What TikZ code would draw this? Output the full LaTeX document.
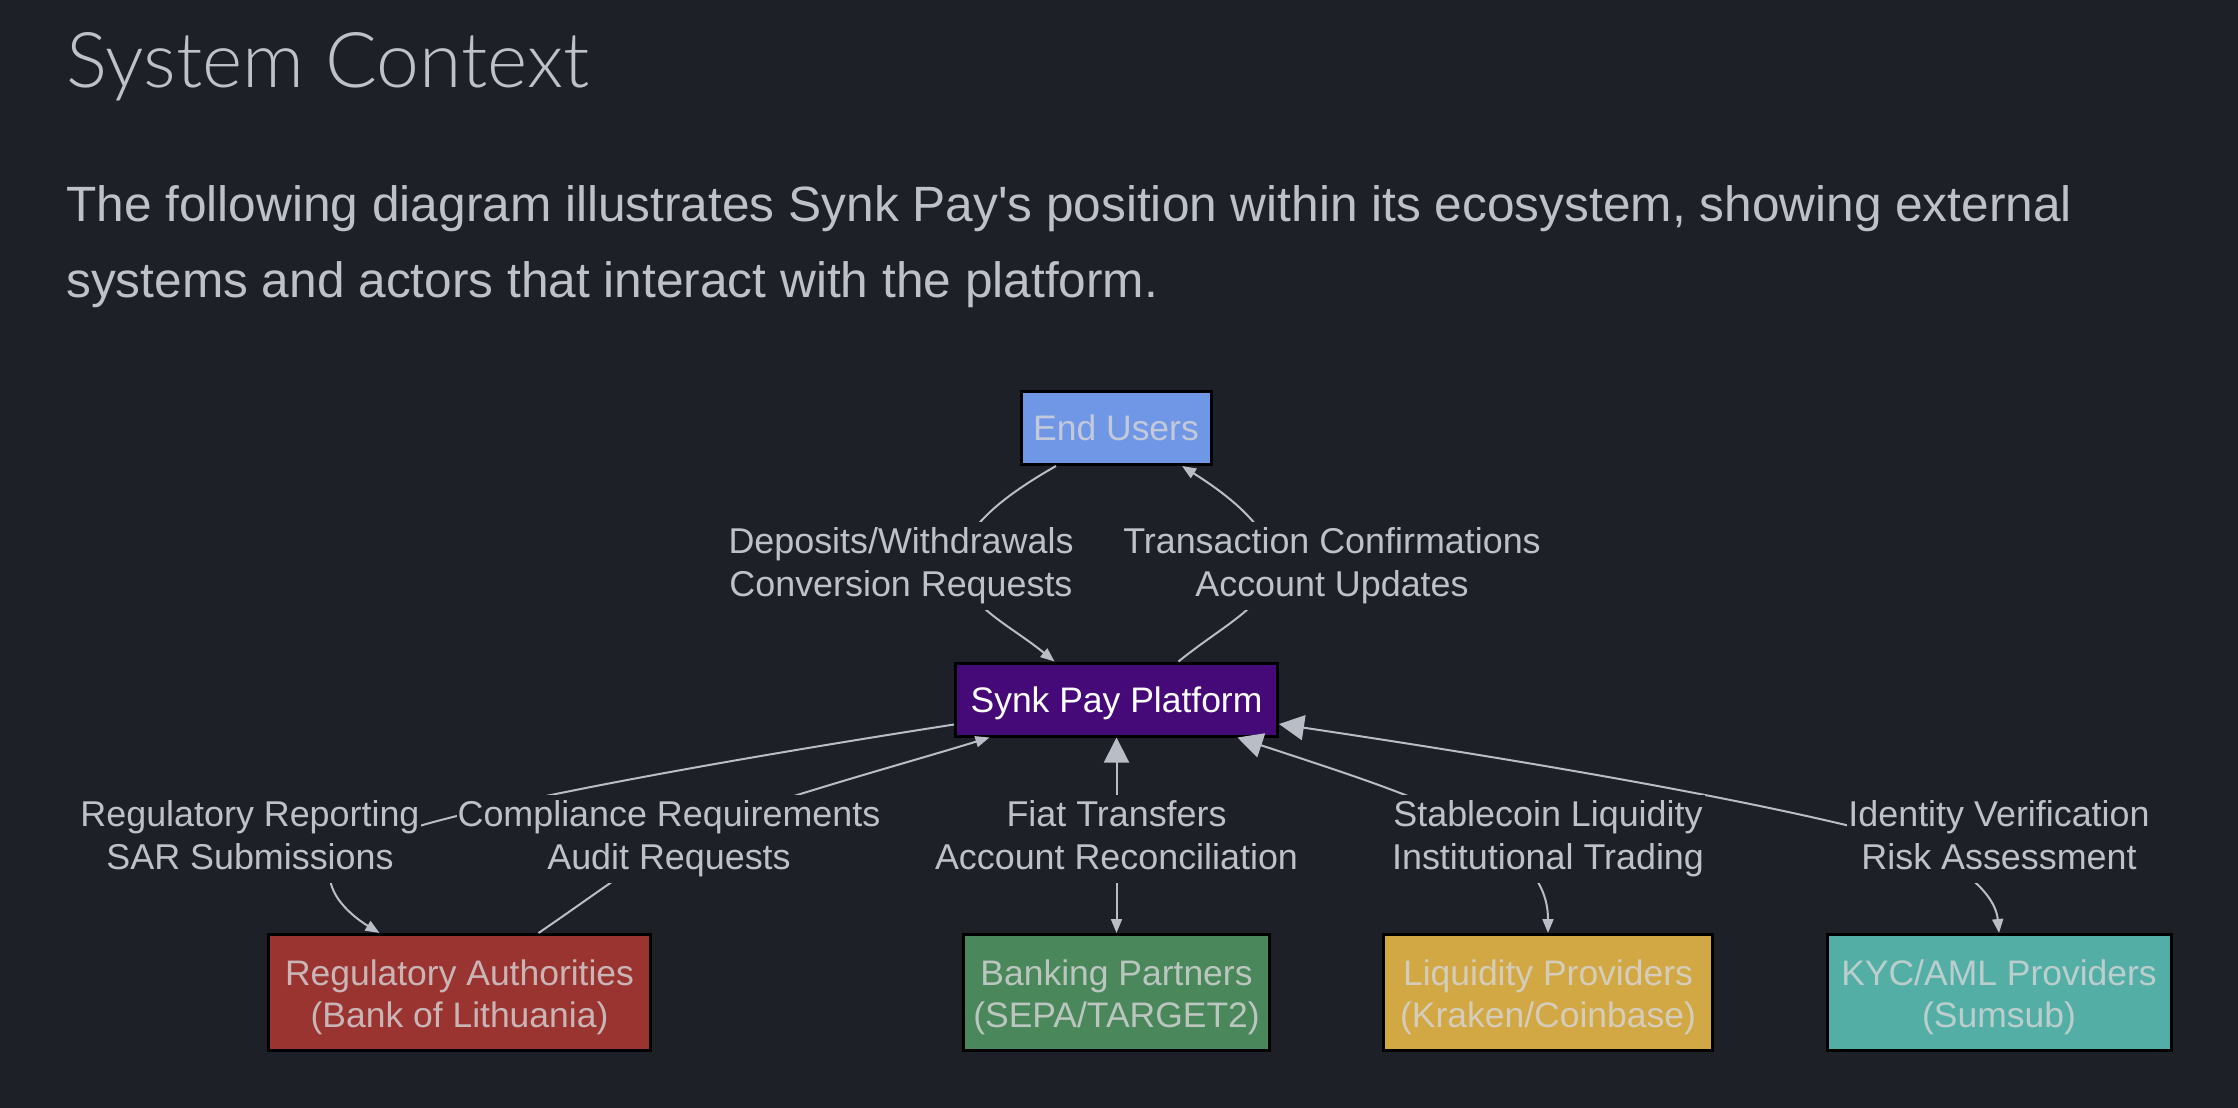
\documentclass[tikz,border=0pt]{standalone}
\usepackage{fontspec}
\setmainfont{Liberation Sans}[Ligatures=TeXOff]
\newfontfamily\titlefont{Lato Light}
\usetikzlibrary{arrows.meta}
\definecolor{bg}{HTML}{1E2028}
\definecolor{txt}{HTML}{BEC1C7}
\definecolor{edgec}{HTML}{B9BDC5}
\definecolor{ntxt}{HTML}{D6D6D8}
\definecolor{cusers}{HTML}{7097E6}
\definecolor{cplat}{HTML}{450A78}
\definecolor{creg}{HTML}{9A3430}
\definecolor{cbank}{HTML}{4A875A}
\definecolor{cliq}{HTML}{D2A844}
\definecolor{ckyc}{HTML}{53AFA6}
\newlength\mytw
\newcommand\fitsize[4]{%
  \settowidth\mytw{#2\fontsize{10pt}{12pt}\selectfont #4}%
  \pgfmathsetmacro#1{#3/\mytw*10}}
\newcommand\topstrut{\rule{0pt}{35pt}}
\begin{document}
\fitsize{\tfs}{\titlefont}{523}{System Context}%
\fitsize{\pfs}{\rmfamily}{2006}{The following diagram illustrates Synk Pay's position within its ecosystem, showing external}%
\fitsize{\lfs}{\rmfamily}{363}{Account Reconciliation}%
\fitsize{\nfs}{\rmfamily}{349}{Regulatory Authorities}%
\begin{tikzpicture}[x=1pt,y=-1pt,
  box/.style={draw=black, line width=3pt, align=center, inner sep=0pt},
  ntext/.style={text=ntxt, text opacity=0.8, font={\fontsize{\nfs pt}{42pt}\selectfont}},
  lbl/.style={fill=bg, text=txt, align=center, inner sep=1pt, font={\fontsize{\lfs pt}{43pt}\selectfont}},
  edge/.style={draw=edgec, line width=2pt},
  arr/.style={-{Triangle[length=14pt,width=11pt]}},
  bi/.style={{Triangle[length=25pt,width=25pt]}-{Triangle[length=14pt,width=11pt]}}]
\useasboundingbox (0,0) rectangle (2238,1108);
\fill[bg] (0,0) rectangle (2238,1108);

% headings
\node[anchor=base west, inner sep=0pt, text=txt, font={\titlefont\fontsize{\tfs pt}{\tfs pt}\selectfont}] (title) at (66,88) {System Context};
\node[anchor=base west, inner sep=0pt, text=txt, font={\fontsize{\pfs pt}{76pt}\selectfont}] (para1) at (66,221) {The following diagram illustrates Synk Pay's position within its ecosystem, showing external};
\node[anchor=base west, inner sep=0pt, text=txt, font={\fontsize{\pfs pt}{76pt}\selectfont}] (para2) at (66,297) {systems and actors that interact with the platform.};

% nodes
\node[box, fill=cusers, ntext, minimum width=190pt, minimum height=73pt] (users) at (1116,428) {End Users};
\node[box, fill=cplat, text=white, font={\fontsize{\nfs pt}{42pt}\selectfont}, text depth=0pt, minimum width=322pt, minimum height=73pt] (plat) at (1116.5,699.5) {Synk Pay Platform};
\node[box, fill=creg, ntext, minimum width=382pt, minimum height=116pt] (reg) at (459.5,992.5) {\topstrut Regulatory Authorities\\(Bank of Lithuania)};
\node[box, fill=cbank, ntext, minimum width=306pt, minimum height=116pt] (bank) at (1116.5,992.5) {\topstrut Banking Partners\\(SEPA/TARGET2)};
\node[box, fill=cliq, ntext, minimum width=329pt, minimum height=116pt] (liq) at (1548,992.5) {\topstrut Liquidity Providers\\(Kraken/Coinbase)};
\node[box, fill=ckyc, ntext, minimum width=344pt, minimum height=116pt] (kyc) at (1999,992.5) {\topstrut KYC/AML Providers\\(Sumsub)};

% edges
\draw[edge,arr] ([xshift=-60pt]users.south) .. controls (1005,495) and (962,528) .. (960,564) .. controls (960,603) and (1010,625) .. ([xshift=-62pt]plat.north);
\draw[edge,arr] ([xshift=62pt]plat.north) .. controls (1223,625) and (1273,603) .. (1273,564) .. controls (1271,528) and (1228,495) .. ([xshift=66pt]users.south);
\draw[edge,arr] ([yshift=-25pt]plat.west) .. controls (700,764) and (480,805) .. (400,832) .. controls (340,852) and (328,858) .. (330,878) .. controls (332,900) and (355,918) .. ([xshift=-80pt]reg.north);
\draw[edge,arr] ([xshift=79pt]reg.north) .. controls (590,898) and (640,860) .. (690,832) .. controls (770,800) and (900,765) .. ([xshift=-127pt]plat.south);
\draw[edge,bi] (plat.south) -- (bank.north);
\draw[edge,bi] ([xshift=121pt]plat.south) .. controls (1330,768) and (1380,784) .. (1430,805) .. controls (1520,845) and (1548,880) .. (liq.north);
\draw[edge,bi] ([yshift=-24.5pt]plat.east) .. controls (1480,754) and (1700,790) .. (1850,826) .. controls (1950,850) and (1995,890) .. (kyc.north);

% edge labels
\node[lbl] (l1) at (901,566) {\strut Deposits/Withdrawals\\Conversion Requests\strut};
\node[lbl] (l2) at (1332,566) {\strut Transaction Confirmations\\Account Updates\strut};
\node[lbl] (l3) at (250,839) {\strut Regulatory Reporting\\SAR Submissions\strut};
\node[lbl] (l4) at (669,839) {\strut Compliance Requirements\\Audit Requests\strut};
\node[lbl] (l5) at (1116.5,839) {\strut Fiat Transfers\\Account Reconciliation\strut};
\node[lbl] (l6) at (1548,839) {\strut Stablecoin Liquidity\\Institutional Trading\strut};
\node[lbl] (l7) at (1999,839) {\strut Identity Verification\\Risk Assessment\strut};
\end{tikzpicture}
\end{document}
